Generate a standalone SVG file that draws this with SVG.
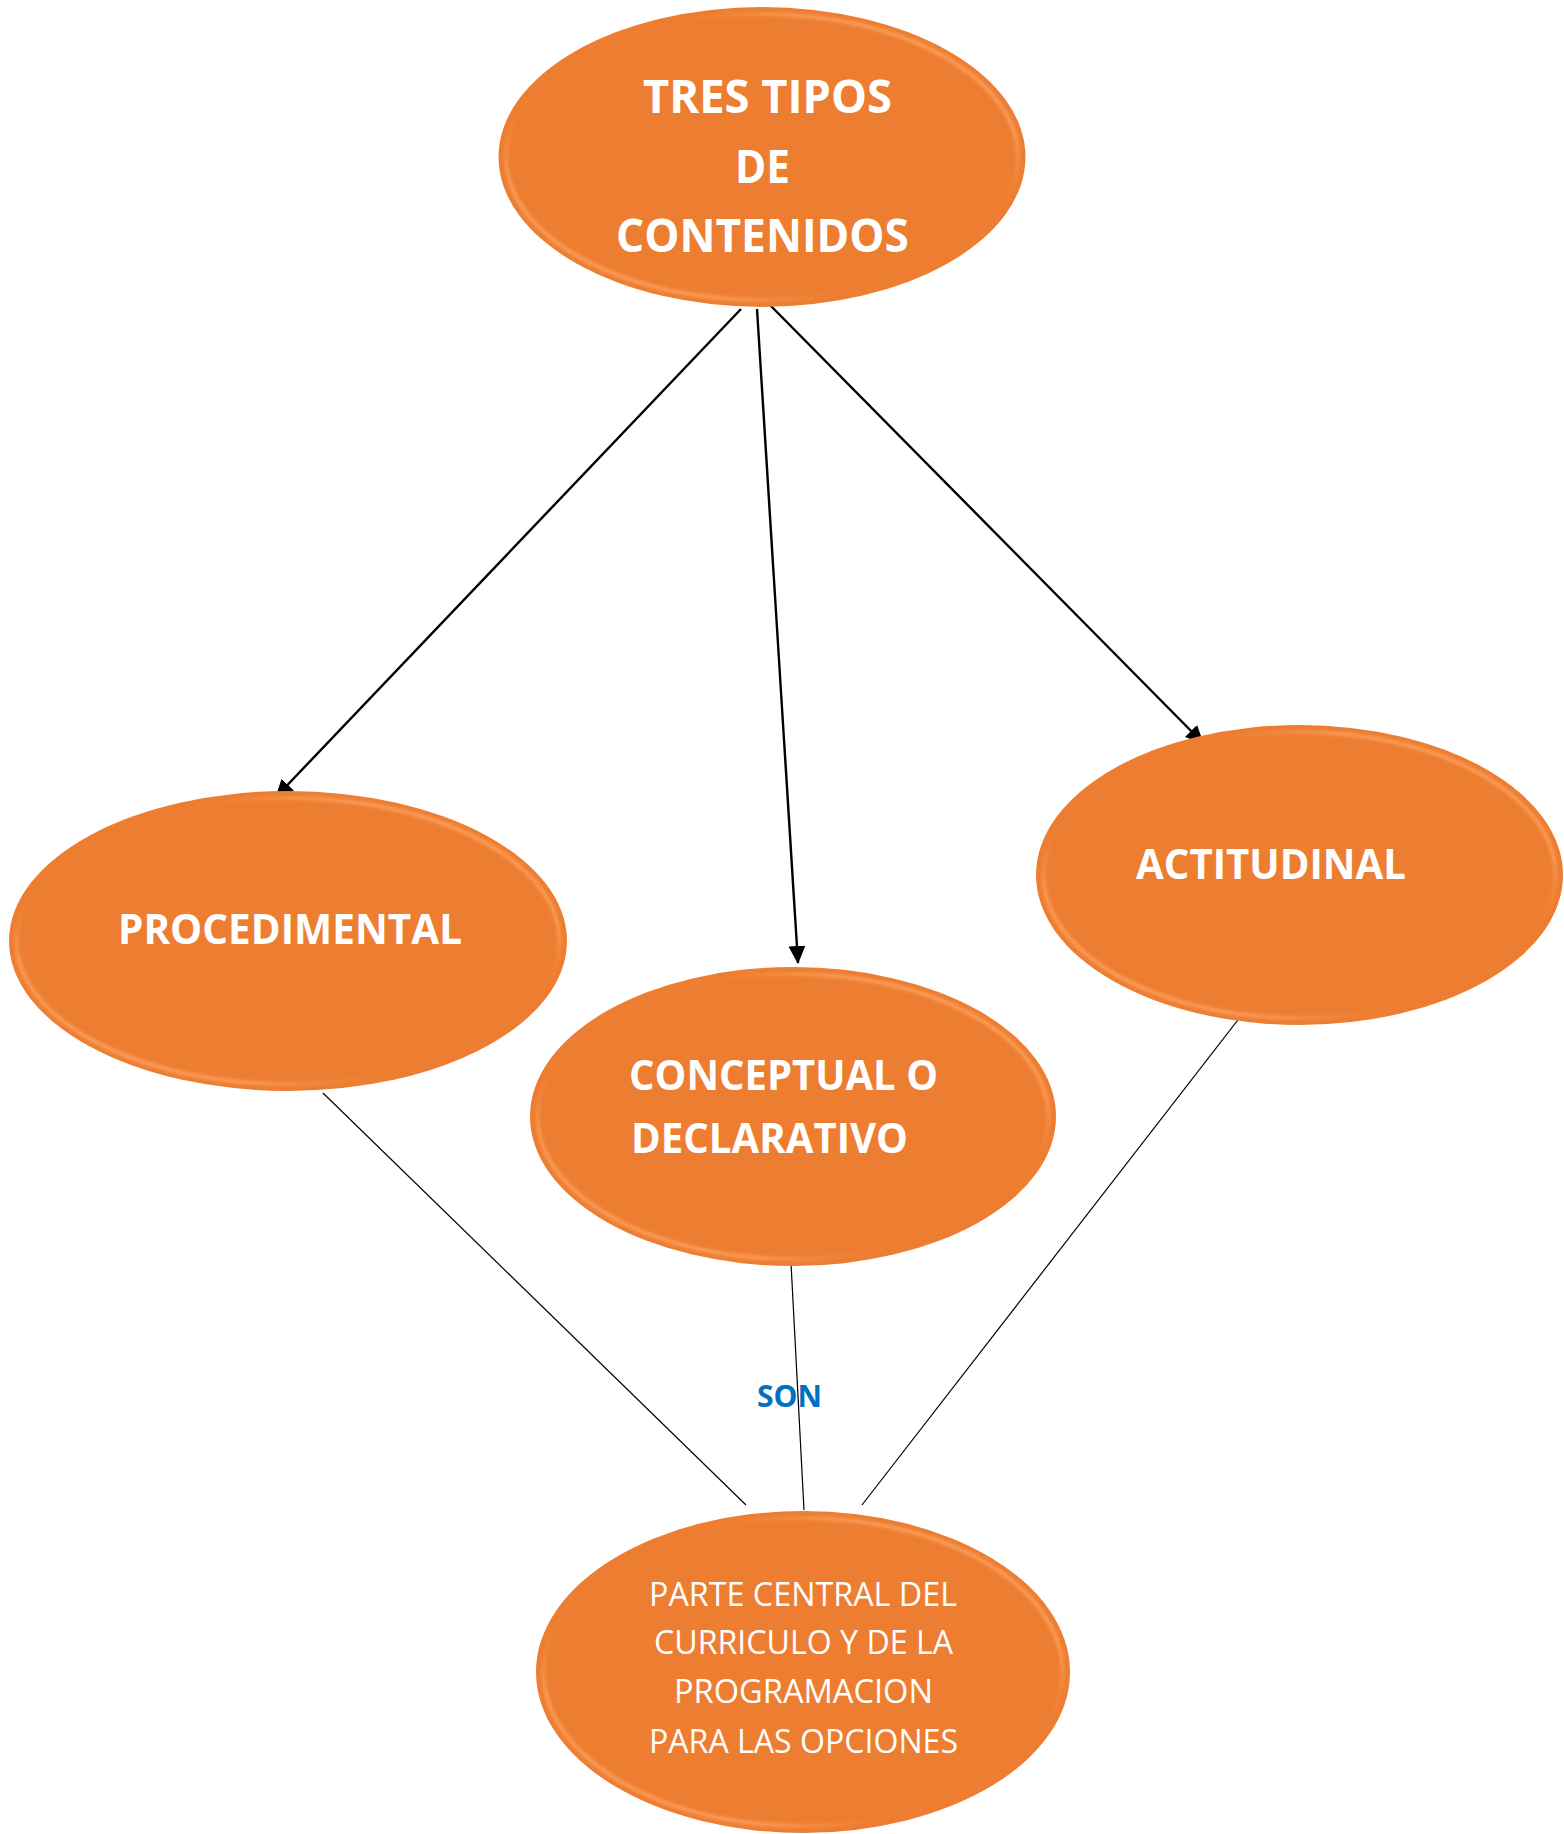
<svg xmlns="http://www.w3.org/2000/svg" width="1564" height="1834" viewBox="0 0 1564 1834">
  <style>
    .node { fill: #ED7D31; }
    .bevel { fill: none; stroke: url(#bevelGrad); stroke-width: 4; filter: url(#soft); }
    .tb { font-family: 'Open Sans', 'Liberation Sans', sans-serif; font-weight: bold; fill: #FFFFFF; }
    .tr { font-family: 'Open Sans', 'Liberation Sans', sans-serif; font-weight: normal; fill: #FFFFFF; font-size: 32px; }
    .arrow { stroke: #000000; stroke-width: 2.4; fill: none; marker-end: url(#ah); }
    .thin { stroke: #000000; stroke-width: 1.2; fill: none; }
    .lbl { font-family: 'Open Sans', 'Liberation Sans', sans-serif; font-weight: bold; fill: #0070C0; font-size: 31px; }
  </style>
  <defs>
    <linearGradient id="bevelGrad" x1="1" y1="0" x2="0" y2="1">
      <stop offset="0" stop-color="#FFA462" stop-opacity="0.95"/>
      <stop offset="0.22" stop-color="#FFA462" stop-opacity="0.7"/>
      <stop offset="0.38" stop-color="#ED7D31" stop-opacity="0"/>
      <stop offset="0.62" stop-color="#ED7D31" stop-opacity="0"/>
      <stop offset="0.78" stop-color="#FFA462" stop-opacity="0.7"/>
      <stop offset="1" stop-color="#FFA462" stop-opacity="0.95"/>
    </linearGradient>
    <filter id="soft" x="-5%" y="-5%" width="110%" height="110%">
      <feGaussianBlur stdDeviation="1.5"/>
    </filter>
    <marker id="ah" markerUnits="userSpaceOnUse" markerWidth="18" markerHeight="18" viewBox="0 0 18 18" refX="17" refY="9" orient="auto">
      <path d="M0,0.5 L18,9 L0,17.5 z" fill="#000000"/>
    </marker>
  </defs>

  <g id="connectors">
    <line class="arrow" x1="741" y1="309" x2="276" y2="797"/>
    <line class="arrow" x1="757" y1="309" x2="798" y2="963"/>
    <line class="arrow" x1="768" y1="303" x2="1203" y2="743"/>
    <line class="thin" x1="323" y1="1093" x2="746" y2="1505"/>
    <line class="thin" x1="791" y1="1263" x2="804" y2="1510"/>
    <line class="thin" x1="1241" y1="1016" x2="862" y2="1505"/>
    <text class="lbl" x="757" y="1407" textLength="65" lengthAdjust="spacingAndGlyphs">SON</text>
  </g>

  <g id="node-tres-tipos">
    <ellipse class="node" cx="762" cy="157" rx="263.5" ry="150"/>
    <ellipse class="bevel" cx="762" cy="157" rx="256" ry="143"/>
    <text class="tb" font-size="46" x="643" y="113" textLength="249" lengthAdjust="spacingAndGlyphs">TRES TIPOS</text>
    <text class="tb" font-size="46" x="735" y="183" textLength="55" lengthAdjust="spacingAndGlyphs">DE</text>
    <text class="tb" font-size="46" x="616" y="252" textLength="293" lengthAdjust="spacingAndGlyphs">CONTENIDOS</text>
  </g>

  <g id="node-procedimental">
    <ellipse class="node" cx="288" cy="941" rx="279" ry="150"/>
    <ellipse class="bevel" cx="288" cy="941" rx="271.5" ry="143"/>
    <text class="tb" font-size="42" x="118" y="944" textLength="344" lengthAdjust="spacingAndGlyphs">PROCEDIMENTAL</text>
  </g>

  <g id="node-conceptual">
    <ellipse class="node" cx="793" cy="1116.5" rx="263" ry="149.5"/>
    <ellipse class="bevel" cx="793" cy="1116.5" rx="255.5" ry="142.5"/>
    <text class="tb" font-size="42" x="629" y="1090" textLength="309" lengthAdjust="spacingAndGlyphs">CONCEPTUAL O</text>
    <text class="tb" font-size="42" x="631" y="1153" textLength="277" lengthAdjust="spacingAndGlyphs">DECLARATIVO</text>
  </g>

  <g id="node-actitudinal">
    <ellipse class="node" cx="1299.5" cy="875" rx="263.5" ry="150"/>
    <ellipse class="bevel" cx="1299.5" cy="875" rx="256" ry="143"/>
    <text class="tb" font-size="42" x="1136" y="879" textLength="270" lengthAdjust="spacingAndGlyphs">ACTITUDINAL</text>
  </g>

  <g id="node-parte-central">
    <ellipse class="node" cx="803" cy="1672" rx="267" ry="161"/>
    <ellipse class="bevel" cx="803" cy="1672" rx="259.5" ry="154"/>
    <text class="tr" x="649" y="1606" textLength="308" lengthAdjust="spacingAndGlyphs">PARTE CENTRAL DEL</text>
    <text class="tr" x="654" y="1654" textLength="299" lengthAdjust="spacingAndGlyphs">CURRICULO Y DE LA</text>
    <text class="tr" x="674" y="1703" textLength="259" lengthAdjust="spacingAndGlyphs">PROGRAMACION</text>
    <text class="tr" x="649" y="1753" textLength="309" lengthAdjust="spacingAndGlyphs">PARA LAS OPCIONES</text>
  </g>
</svg>
